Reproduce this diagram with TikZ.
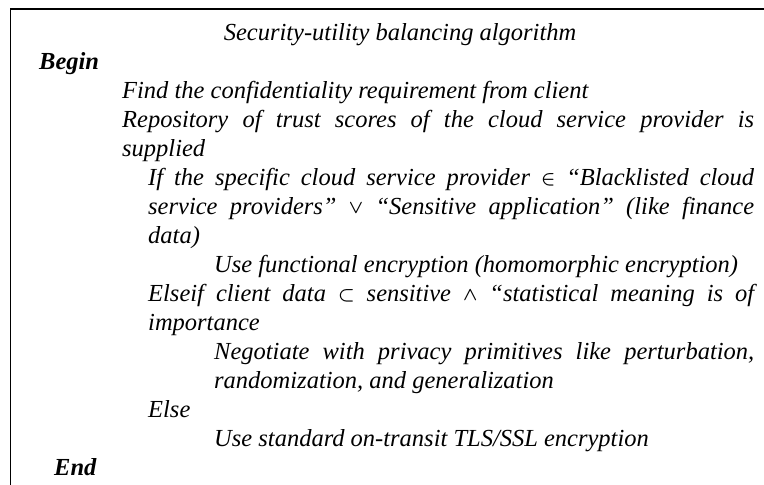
\documentclass[tikz,border=0pt]{standalone}
\usepackage{amsmath}
\usepackage{fontspec}
\setmainfont{Liberation Serif}
\begin{document}
\begin{tikzpicture}[x=1pt,y=-1pt,
  algline/.style={anchor=base west,inner sep=0pt,font=\fontsize{24.5}{29}\selectfont\itshape},
  keyword/.style={algline,font=\fontsize{24.5}{29}\selectfont\bfseries\itshape},
  frameline/.style={line width=1.6pt}]
\useasboundingbox (0,0) rectangle (764,485);
% open frame: left side and top only
\coordinate (fbot) at (10.5,485);
\coordinate (fcorner) at (10.5,9);
\coordinate (fright) at (764,9);
\draw[frameline] (fbot) -- (fcorner) -- (fright);
% algorithm text, one node per printed line (baselines 29pt apart)
\newcommand{\alsym}[1]{\raisebox{0.5pt}{\scalebox{0.75}{$\boldsymbol{#1}$}}}
\node[algline,anchor=base] (title) at (400,40) {Security-utility balancing algorithm};
\node[keyword] (begin) at (39,69) {Begin};
\node[algline] (find) at (122,98) {Find the confidentiality requirement from client};
\node[algline] (repo1) at (122,127) {\makebox[632pt][s]{Repository of trust scores of the cloud service provider is}};
\node[algline] (repo2) at (122,156) {supplied};
\node[algline] (if1) at (148,185) {\makebox[606pt][s]{If the specific cloud service provider \alsym{\in} “Blacklisted cloud}};
\node[algline] (if2) at (148,214) {\makebox[606pt][s]{service providers” \alsym{\vee} “Sensitive application” (like finance}};
\node[algline] (if3) at (148,243) {data)};
\node[algline] (usefe) at (214,272) {Use functional encryption (homomorphic encryption)};
\node[algline] (elif1) at (148,301) {\makebox[606pt][s]{Elseif client data \alsym{\subset} sensitive \alsym{\wedge} “statistical meaning is of}};
\node[algline] (elif2) at (148,330) {importance};
\node[algline] (neg1) at (214,359) {\makebox[540pt][s]{Negotiate with privacy primitives like perturbation,}};
\node[algline] (neg2) at (214,388) {randomization, and generalization};
\node[algline] (else) at (148,417) {Else};
\node[algline] (usetls) at (214,446) {Use standard on-transit TLS/SSL encryption};
\node[keyword] (end) at (54,475) {End};
\end{tikzpicture}
\end{document}
